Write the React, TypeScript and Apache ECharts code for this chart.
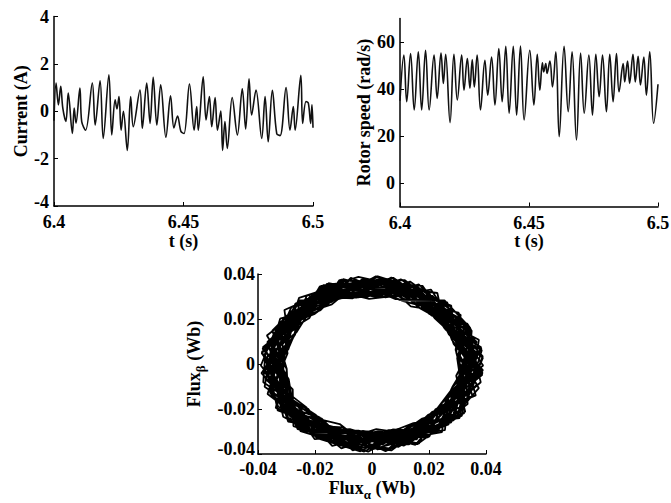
import React, { useEffect, useRef } from "react";
import * as echarts from "echarts";

// ---- Data ----
const timeTicks = [6.4, 6.45, 6.5];
const currentTicks = [-4, -2, 0, 2, 4];
const speedTicks = [0, 20, 40, 60];
const fluxTicks = [-0.04, -0.02, 0, 0.02, 0.04];

const timeCurrent = [6.4000,6.4008,6.4017,6.4026,6.4034,6.4046,6.4055,6.4071,6.4078,6.4085,6.4100,6.4107,6.4122,6.4148,6.4159,6.4178,6.4190,6.4212,6.4223,6.4236,6.4243,6.4251,6.4259,6.4268,6.4283,6.4296,6.4306,6.4332,6.4341,6.4358,6.4371,6.4383,6.4397,6.4412,6.4432,6.4450,6.4463,6.4477,6.4490,6.4502,6.4523,6.4541,6.4551,6.4557,6.4576,6.4587,6.4600,6.4609,6.4622,6.4631,6.4644,6.4651,6.4660,6.4669,6.4688,6.4708,6.4727,6.4740,6.4753,6.4763,6.4780,6.4802,6.4815,6.4827,6.4843,6.4860,6.4873,6.4896,6.4911,6.4924,6.4931,6.4953,6.4960,6.4973,6.4982,6.4991,6.4996,6.5000];
const currentA = [-0.4,1.19,0.27,1.05,0.13,-0.43,0.77,-0.94,0.13,-0.5,0.98,-0.44,-0.8,1.19,-0.58,1.29,-1.15,1.54,-1.0,0.48,0.1,0.62,-0.8,0.0,-1.65,0.62,-0.65,0.9,-0.72,1.19,-0.51,1.43,-0.58,1.12,-1.1,0.65,-0.7,-0.2,-0.85,-0.94,1.15,-0.8,0.2,-0.8,1.45,-0.37,0.62,-0.65,0.58,-0.8,0.01,-1.65,-0.44,-1.57,0.58,-1.0,0.95,-0.75,1.37,-0.16,0.9,-1.15,0.62,-1.29,0.88,-0.94,-1.03,1.0,-0.8,0.2,-0.8,1.52,-0.51,0.41,0.34,-0.51,0.27,-0.7];

const timeSpeed = [6.4000,6.4015,6.4026,6.4041,6.4055,6.4071,6.4084,6.4099,6.4113,6.4132,6.4144,6.4159,6.4168,6.4177,6.4194,6.4209,6.4222,6.4239,6.4248,6.4261,6.4271,6.4280,6.4288,6.4299,6.4312,6.4329,6.4340,6.4355,6.4368,6.4383,6.4396,6.4410,6.4423,6.4439,6.4452,6.4467,6.4481,6.4503,6.4519,6.4532,6.4542,6.4552,6.4557,6.4565,6.4570,6.4581,6.4591,6.4604,6.4617,6.4636,6.4652,6.4667,6.4684,6.4700,6.4714,6.4732,6.4746,6.4759,6.4772,6.4785,6.4800,6.4813,6.4826,6.4839,6.4849,6.4865,6.4871,6.4882,6.4890,6.4903,6.4912,6.4923,6.4932,6.4945,6.4955,6.4968,6.4983,6.5000];
const speedRad = [35,54.4,34.6,55.1,31.1,55.8,31.1,56.5,31.1,54.4,36,55.3,42.4,54.8,25.7,54.8,35.3,54.4,39.5,53,40.3,52.5,40.9,54.4,31.1,52.2,37.4,53.6,33.2,57.2,34.6,58.2,29.7,58.2,28.9,58.3,26.8,56.5,33.2,54.8,39.5,51.1,47.3,50.8,46.6,51.9,40.9,55.8,19.7,58.2,30.3,55.8,18.3,55.3,29.7,54.4,28.9,54.8,36.7,54.4,30.3,54.8,34.6,55.1,38.8,50.8,43,51.9,42.4,54.8,43,53.9,41.7,53.6,37.4,55.8,25.4,42];

// Flux trajectory: radius (mWb) of the rotating flux vector, one sample every fluxAngleStepDeg degrees
const fluxAngleStepDeg = 23;
const fluxRadiusMWb = [
  36,31,38,33,29,37,35,39,30,34,38,32,36,30,39,33,37,31,35,38,30,36,33,39,
  31,37,34,30,38,35,32,39,31,36,29,38,34,37,30,33,39,35,31,37,34,30,38,32,
  38,33,30,36,39,32,35,30,37,34,39,31,36,33,38,30,35,37,32,39,31,34,36,30,
  34,39,32,37,31,35,38,30,33,39,36,31,38,30,35,37,33,29,38,36,31,39,33,37,
  30,35,38,31,36,33,39,34,30,37,32,38,35,31,39,34,30,36,38,32,37,30,35,39,
  37,32,35,39,30,38,31,36,34,30,38,35,32,37,30,39,36,31,34,38,33,36,30,34,
  33,38,30,34,37,31,39,33,36,38,31,34,39,36,32,30,38,34,37,31,39,35,32,38,
  39,31,36,32,38,34,30,37,39,32,35,30,37,33,38,35,31,39,30,36,34,38,31,35,
  32,36,39,30,35,37,33,38,31,35,39,33,30,38,36,32,37,30,35,39,32,37,34,30,
  35,30,37,38,32,30,36,31,38,33,37,39,34,31,37,29,35,38,33,30,38,31,36,39,
  38,34,31,36,39,33,37,30,35,39,30,36,32,38,33,39,31,36,38,34,30,37,39,32,
  31,37,35,30,34,38,32,39,33,30,37,34,39,35,30,36,38,32,31,37,35,39,30,36,
  36,30,38,33,37,31,35,34,38,31,36,38,31,36,39,33,30,37,35,39,32,34,38,31,
  30,39,34,37,31,36,39,30,35,37,33,30,38,34,32,37,39,31,36,33,38,30,35,37,
  37,33,36,31,39,34,30,37,32,38,35,31,36,39,30,35,33,38,30,36,39,32,37,34,
  34,38,30,35,37,32,38,35,30,33,39,37,32,30,38,34,36,30,39,35,31,37,33,38,
  39,32,37,34,30,38,33,36,39,31,35,30,37,39,33,31,38,35,34,30,36,38,31,35,
  31,36,39,30,36,35,31,38,34,37,32,39,35,31,36,39,30,34,38,32,37,35,39,30,
  35,38,33,37,32,30,39,34,31,36,38,33,30,37,35,32,38,36,31,39,33,30,36,38,
  38,30,35,39,34,37,31,36,38,30,34,36,39,33,30,37,34,39,35,31,38,36,32,34,
  32,37,31,36,38,33,35,30,37,39,31,35,37,32,38,36,31,33,39,37,30,34,38,31,
  36,34,39,32,30,37,38,33,35,32,38,30,34,39,31,35,39,30,37,34,36,39,33,37,
  30,38,36,35,39,31,34,39,30,35,37,38,31,36,33,39,32,37,30,36,39,31,35,39,
  37,31,34,38,33,36,30,37,39,33,30,36,38,34,39,30,36,38,32,35,31,38,34,30,
  33,39,30,36,31,38,35,32,36,38,34,31,35,37,30,38,33,31,36,39,34,37,30,36,
];

const FONT = "'Liberation Serif', 'Times New Roman', serif";
const tickText = { color: "#000", fontFamily: FONT, fontSize: 18, fontWeight: "bold" as const };
const nameText = { color: "#000", fontFamily: FONT, fontSize: 18, fontWeight: "bold" as const };
const axisLine = { show: true, onZero: false, lineStyle: { color: "#000", width: 1.5 } };

const subRich = {
  n: { fontFamily: FONT, fontSize: 18, fontWeight: "bold" as const, color: "#000", lineHeight: 26, verticalAlign: "middle" as const },
  s: { fontFamily: FONT, fontSize: 13, fontWeight: "bold" as const, color: "#000", lineHeight: 13, verticalAlign: "bottom" as const },
};
// lowest y tick label lifted a little so it clears the x tick labels below it
const liftRich = (pad: number) => ({
  lo: { fontFamily: FONT, fontSize: 18, fontWeight: "bold" as const, color: "#000", padding: [0, 0, pad, 0] },
});

function buildOption() {
  const currentData = timeCurrent.map((t, i) => [t, currentA[i]]);
  const speedData = timeSpeed.map((t, i) => [t, speedRad[i]]);
  const fluxData = fluxRadiusMWb.map((r, i) => {
    const a = (i * fluxAngleStepDeg * Math.PI) / 180;
    const R = r / 1000;
    return [R * Math.cos(a), R * Math.sin(a)];
  });
  const fmtTime = (v: number) => String(Math.round(v * 100) / 100);
  const fmtLow = (lowest: number) => (v: number) => {
    const s = String(Math.round(v * 1000) / 1000);
    return Math.abs(v - lowest) < 1e-9 ? `{lo|${s}}` : s;
  };
  const lineSeries = {
    type: "line" as const,
    symbol: "none",
    showSymbol: false,
    animation: false,
    silent: true,
  };
  const tick = (vals: number[]) => ({ show: true, inside: true, length: 4, customValues: vals, lineStyle: { color: "#000" } });
  return {
    animation: false,
    backgroundColor: "#fff",
    grid: [
      { left: 54, top: 16.5, width: 259, height: 189.5, outerBoundsMode: "none", containLabel: false },
      { left: 400, top: 18.5, width: 258, height: 188, outerBoundsMode: "none", containLabel: false },
      { left: 258, top: 274, width: 228, height: 180, outerBoundsMode: "none", containLabel: false },
    ],
    xAxis: [
      {
        gridIndex: 0, type: "value", min: 6.4, max: 6.5,
        axisLine, splitLine: { show: false }, axisTick: tick(timeTicks),
        axisLabel: { ...tickText, margin: 7, customValues: timeTicks, formatter: fmtTime },
        name: "t (s)", nameLocation: "middle", nameGap: 21, nameTextStyle: nameText,
      },
      {
        gridIndex: 1, type: "value", min: 6.4, max: 6.5,
        axisLine, splitLine: { show: false }, axisTick: tick(timeTicks),
        axisLabel: { ...tickText, margin: 7, customValues: timeTicks, formatter: fmtTime },
        name: "t (s)", nameLocation: "middle", nameGap: 21, nameTextStyle: nameText,
      },
      {
        gridIndex: 2, type: "value", min: -0.04, max: 0.04,
        axisLine, splitLine: { show: false }, axisTick: tick(fluxTicks),
        axisLabel: { ...tickText, margin: 6, customValues: fluxTicks },
        name: "{n|Flux}{s|α}{n| (Wb)}", nameLocation: "middle", nameGap: 8,
        nameTextStyle: { ...nameText, rich: subRich },
      },
    ],
    yAxis: [
      {
        gridIndex: 0, type: "value", min: -4, max: 4,
        axisLine, splitLine: { show: false }, axisTick: tick(currentTicks),
        axisLabel: { ...tickText, margin: 5, customValues: currentTicks, formatter: fmtLow(-4), rich: liftRich(9) },
        name: "Current (A)", nameLocation: "middle", nameGap: 23, nameTextStyle: nameText,
      },
      {
        gridIndex: 1, type: "value", min: -10, max: 70,
        axisLine, splitLine: { show: false }, axisTick: tick(speedTicks),
        axisLabel: { ...tickText, margin: 5, customValues: speedTicks },
        name: "Rotor speed (rad/s)", nameLocation: "middle", nameGap: 26, nameTextStyle: nameText,
      },
      {
        gridIndex: 2, type: "value", min: -0.04, max: 0.04,
        axisLine, splitLine: { show: false }, axisTick: tick(fluxTicks),
        axisLabel: { ...tickText, margin: 3, customValues: fluxTicks, formatter: fmtLow(-0.04), rich: liftRich(11) },
        name: "{n|Flux}{s|β}{n| (Wb)}", nameLocation: "middle", nameGap: 51,
        nameTextStyle: { ...nameText, rich: subRich },
      },
    ],
    series: [
      { ...lineSeries, xAxisIndex: 0, yAxisIndex: 0, data: currentData, smooth: 0.35, lineStyle: { color: "#111", width: 1.6 } },
      { ...lineSeries, xAxisIndex: 1, yAxisIndex: 1, data: speedData, smooth: 0.4, lineStyle: { color: "#111", width: 1.6 } },
      { ...lineSeries, xAxisIndex: 2, yAxisIndex: 2, data: fluxData, smooth: false, clip: true, lineStyle: { color: "#000", width: 1.8 } },
    ],
  };
}

export default function App() {
  const ref = useRef<HTMLDivElement>(null);
  useEffect(() => {
    document.body.style.margin = "0";
    if (!ref.current) return;
    const chart = echarts.init(ref.current, null, { renderer: "svg" });
    chart.setOption(buildOption() as any);
    return () => chart.dispose();
  }, []);
  return <div ref={ref} style={{ width: 671, height: 503, background: "#fff" }} />;
}
